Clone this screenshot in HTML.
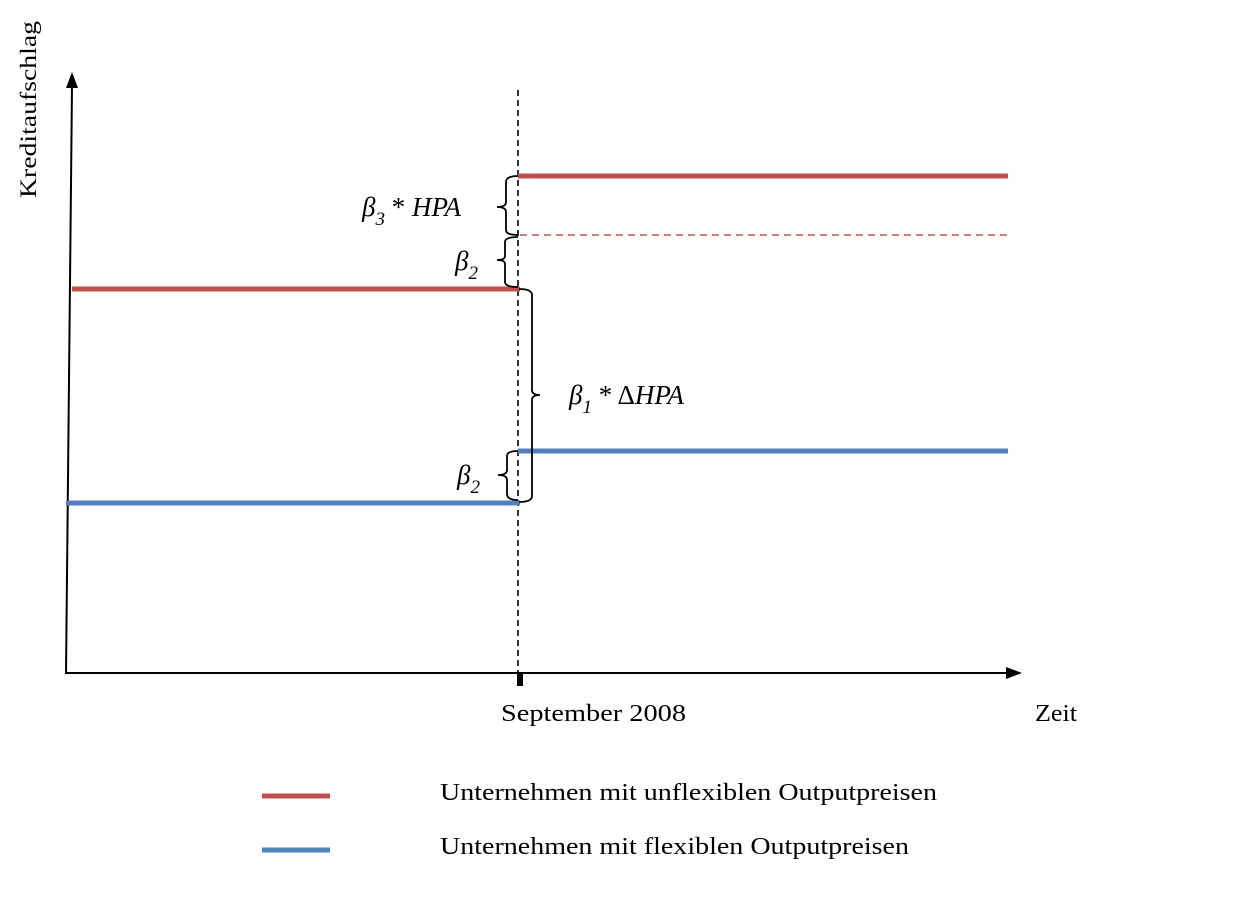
<!DOCTYPE html>
<html><head><meta charset="utf-8"><style>body{margin:0;background:#fff}svg{display:block}</style></head>
<body>
<svg width="1234" height="900" viewBox="0 0 1234 900" xmlns="http://www.w3.org/2000/svg" font-family="Liberation Serif, serif">
<rect width="1234" height="900" fill="#fff"/>
<line x1="66" y1="674" x2="72" y2="86" stroke="#000" stroke-width="2"/>
<polygon points="72,72 66,88 78,88" fill="#000"/>
<line x1="66" y1="673" x2="1008" y2="673" stroke="#000" stroke-width="2"/>
<polygon points="1022,673 1006,667 1006,679" fill="#000"/>
<rect x="517" y="672" width="6" height="14" fill="#000"/>
<line x1="518" y1="90" x2="518" y2="686" stroke="#000" stroke-width="1.6" stroke-dasharray="6,4"/>
<line x1="72" y1="289" x2="520" y2="289" stroke="#c0504d" stroke-width="5"/>
<line x1="518" y1="176" x2="1008" y2="176" stroke="#c0504d" stroke-width="5"/>
<line x1="520" y1="235" x2="1008" y2="235" stroke="#c0504d" stroke-width="1.5" stroke-dasharray="7,5"/>
<line x1="66" y1="503" x2="520" y2="503" stroke="#4f81bd" stroke-width="5"/>
<line x1="518" y1="451" x2="1008" y2="451" stroke="#4f81bd" stroke-width="5"/>
<g fill="none" stroke="#000" stroke-width="1.8">
<path d="M518,176 Q506,176 506,182 L506,202 Q506,207 497,207 Q506,207 506,212 L506,230 Q506,235 518,235"/>
<path d="M518,237 Q505,237 505,242 L505,256 Q505,260 497,260 Q505,260 505,264 L505,282 Q505,287 518,287"/>
<path d="M519,289 Q532,289 532,295 L532,390 Q532,395 540,395 Q532,395 532,400 L532,496 Q532,502 519,502"/>
<path d="M518,451 Q507,451 507,456 L507,470 Q507,475 498,475 Q507,475 507,480 L507,494 Q507,500 518,500"/>
</g>
<g font-style="italic" font-size="27" fill="#000">
<text x="362" y="216">β<tspan font-size="19" dy="9">3</tspan><tspan dy="-9" font-style="normal"> * </tspan><tspan>HPA</tspan></text>
<text x="455" y="270">β<tspan font-size="19" dy="9">2</tspan></text>
<text x="569" y="404">β<tspan font-size="19" dy="9">1</tspan><tspan dy="-9" font-style="normal"> * Δ</tspan><tspan>HPA</tspan></text>
<text x="457" y="484">β<tspan font-size="19" dy="9">2</tspan></text>
</g>
<text transform="translate(36,198) rotate(-90)" font-size="23" textLength="177" lengthAdjust="spacingAndGlyphs">Kreditaufschlag</text>
<text x="501" y="721" font-size="24" textLength="185" lengthAdjust="spacingAndGlyphs">September 2008</text>
<text x="1035" y="721" font-size="24" textLength="42" lengthAdjust="spacingAndGlyphs">Zeit</text>
<line x1="262" y1="796" x2="330" y2="796" stroke="#c0504d" stroke-width="5"/>
<line x1="262" y1="850" x2="330" y2="850" stroke="#4f81bd" stroke-width="5"/>
<text x="440" y="800" font-size="24" textLength="497" lengthAdjust="spacingAndGlyphs">Unternehmen mit unflexiblen Outputpreisen</text>
<text x="440" y="854" font-size="24" textLength="469" lengthAdjust="spacingAndGlyphs">Unternehmen mit flexiblen Outputpreisen</text>
</svg>
</body></html>
